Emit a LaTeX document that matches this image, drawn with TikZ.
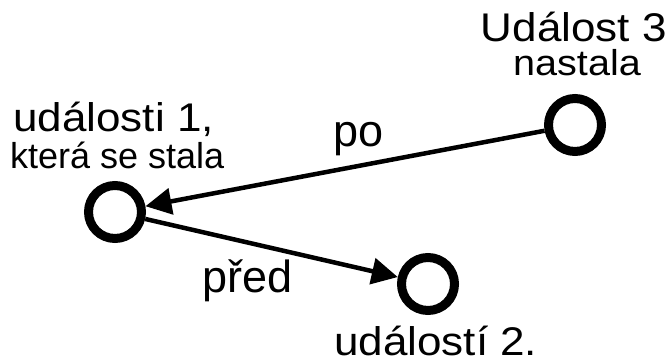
\documentclass[tikz,border=0pt]{standalone}
\usepackage{fontspec}
\setmainfont{Liberation Sans}
\newfontfamily\widesans{Liberation Sans}[FakeStretch=1.1]
\usetikzlibrary{arrows.meta}

\begin{document}
\begin{tikzpicture}[x=1pt,y=-1pt,
  event/.style={circle, draw=black, line width=9pt, minimum size=53pt, inner sep=0pt},
  link/.style={line width=4.5pt, -{Triangle[length=26pt,width=26pt]}},
  bigtxt/.style={inner sep=0pt, font=\widesans\fontsize{40}{48}\selectfont},
  smalltxt/.style={inner sep=0pt, font=\fontsize{36}{43}\selectfont},
  smallwide/.style={inner sep=0pt, font=\widesans\fontsize{36}{43}\selectfont},
  edgetxt/.style={inner sep=0pt, font=\fontsize{45}{54}\selectfont}]
\useasboundingbox (0,0) rectangle (669,363);

% events
\node[event] (e1) at (115,212) {};
\node[event] (e2) at (428,284) {};
\node[event] (e3) at (575,125) {};

% relations between events
\draw[link] (e3) -- (e1);
\draw[link] (e1) -- (e2);

% event captions
\node[bigtxt, anchor=base east] (t3a) at (667,42) {Událost 3};
\node[smallwide, anchor=base] (t3b) at (577,76) {nastala};
\node[bigtxt, anchor=base west] (t1a) at (13,132) {události 1,};
\node[smalltxt, anchor=base west] (t1b) at (10,169) {která se stala};
\node[bigtxt, anchor=base west] (t2) at (334,355) {událostí 2.};

% relation labels
\node[edgetxt, anchor=base west] (lpo) at (333,147) {po};
\node[edgetxt, anchor=base west] (lpred) at (202,292) {před};
\end{tikzpicture}
\end{document}
